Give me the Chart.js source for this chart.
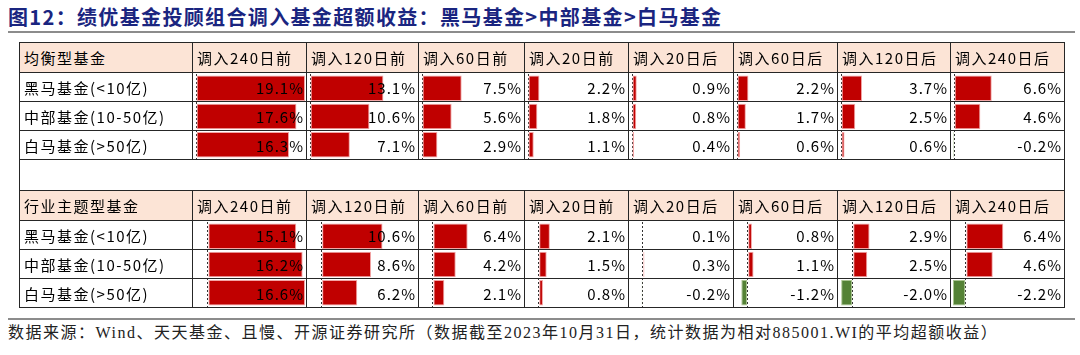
<!DOCTYPE html>
<html>
<head>
<meta charset="utf-8">
<script src="https://cdn.jsdelivr.net/npm/chart.js@4.4.0/dist/chart.umd.min.js"></script>
<style>
body{margin:0;background:#fff;width:1080px;height:355px;overflow:hidden;position:relative;font-family:"Noto Sans CJK SC","Noto Sans",sans-serif;}
#title{position:absolute;left:8px;top:3px;font-size:20px;line-height:28px;font-weight:bold;color:#1a2580;letter-spacing:1.35px;white-space:nowrap;}
.rule{position:absolute;left:8px;width:1067px;height:2px;background:#8c8c8c;}
#wrap{position:absolute;left:19px;top:42px;}
#wrap canvas{position:absolute;z-index:1;}
table{border-collapse:collapse;table-layout:fixed;position:relative;z-index:2;border:1.5px solid #222;}
td{border:1px solid #262626;padding:0 4px;font-size:15px;letter-spacing:1.5px;white-space:nowrap;overflow:hidden;color:#000;}
td.hd{background:#fce4d6;height:29px;}
td.lb{height:28px;}
td.val{text-align:right;padding:0 2px 0 0;letter-spacing:1px;}
td.gap{height:30px;}
#foot{position:absolute;left:8px;top:322px;font-family:"Liberation Serif","Noto Sans CJK SC",serif;font-size:16px;line-height:22px;color:#222;white-space:nowrap;letter-spacing:1.5px;}
</style>
</head>
<body>
<div id="title">图12：绩优基金投顾组合调入基金超额收益：黑马基金&gt;中部基金&gt;白马基金</div>
<div class="rule" style="top:31px"></div>
<div id="wrap"></div>
<div class="rule" style="top:318px"></div>
<div id="foot">数据来源：Wind、天天基金、且慢、开源证券研究所（数据截至2023年10月31日，统计数据为相对885001.WI的平均超额收益）</div>
<script>
var columns = ['调入240日前','调入120日前','调入60日前','调入20日前','调入20日后','调入60日后','调入120日后','调入240日后'];
var rowLabels = ['黑马基金(<10亿)','中部基金(10-50亿)','白马基金(>50亿)'];
var colWidths = [173,114,112,106,104,105,104,113,114];

// 均衡型基金
var balDark  = [19.1,13.1,7.5,2.2,0.9,2.2,3.7,6.6];
var balMid   = [17.6,10.6,5.6,1.8,0.8,1.7,2.5,4.6];
var balWhite = [16.3,7.1,2.9,1.1,0.4,0.6,0.6,-0.2];
// 行业主题型基金
var indDark  = [15.1,10.6,6.4,2.1,0.1,0.8,2.9,6.4];
var indMid   = [16.2,8.6,4.2,1.5,0.3,1.1,2.5,4.6];
var indWhite = [16.6,6.2,2.1,0.8,-0.2,-1.2,-2.0,-2.2];

var sections = [
  {name:'均衡型基金', rows:[balDark,balMid,balWhite]},
  {name:'行业主题型基金', rows:[indDark,indMid,indWhite]}
];

var RED = '#c00000', GREEN = '#548235';

var wrap = document.getElementById('wrap');
var table = document.createElement('table');
var cg = document.createElement('colgroup');
colWidths.forEach(function(w){ var c=document.createElement('col'); c.style.width=w+'px'; cg.appendChild(c); });
table.appendChild(cg);
table.style.width = colWidths.reduce(function(a,b){return a+b;},0)+'px';

function fmt(v){ return v.toFixed(1)+'%'; }

var cellRefs = [];
sections.forEach(function(sec, si){
  if(si>0){
    var tr=document.createElement('tr'); var td=document.createElement('td');
    td.colSpan=9; td.className='gap'; tr.appendChild(td); table.appendChild(tr);
  }
  var hr=document.createElement('tr');
  var h0=document.createElement('td'); h0.className='hd'; h0.textContent=sec.name; hr.appendChild(h0);
  columns.forEach(function(c){ var td=document.createElement('td'); td.className='hd'; td.textContent=c; hr.appendChild(td); });
  table.appendChild(hr);
  var refs=[];
  sec.rows.forEach(function(vals, ri){
    var tr=document.createElement('tr');
    var l=document.createElement('td'); l.className='lb'; l.textContent=rowLabels[ri]; tr.appendChild(l);
    var rr=[];
    vals.forEach(function(v){ var td=document.createElement('td'); td.className='val'; td.textContent=fmt(v); tr.appendChild(td); rr.push(td); });
    refs.push(rr);
    table.appendChild(tr);
  });
  cellRefs.push(refs);
});
wrap.appendChild(table);

var wr = wrap.getBoundingClientRect();
sections.forEach(function(sec, si){
  var all = [].concat.apply([], sec.rows);
  var lo = Math.min(0, Math.min.apply(null, all));
  var hi = Math.max.apply(null, all);
  var refs = cellRefs[si];
  columns.forEach(function(c, ci){
    var top = refs[0][ci].getBoundingClientRect();
    var bot = refs[2][ci].getBoundingClientRect();
    var x = top.left - wr.left + 2, y = top.top - wr.top + 1;
    var w = top.width - 4, h = bot.bottom - top.top - 2;
    var cv = document.createElement('canvas');
    cv.width = w; cv.height = h;
    cv.style.left = x+'px'; cv.style.top = y+'px';
    cv.style.width = w+'px'; cv.style.height = h+'px';
    wrap.appendChild(cv);
    var vals = sec.rows.map(function(r){ return r[ci]; });
    new Chart(cv, {
      type: 'bar',
      data: {
        labels: rowLabels,
        datasets: [{
          data: vals,
          backgroundColor: vals.map(function(v){ return v<0 ? GREEN : RED; }),
          borderColor: vals.map(function(v){ return v<0 ? '#a9c48f' : '#f2a5a5'; }),
          borderWidth: 1,
          borderSkipped: false,
          barPercentage: 0.9,
          categoryPercentage: 1
        }]
      },
      options: {
        indexAxis: 'y',
        responsive: false,
        animation: false,
        events: [],
        layout: {padding: 0},
        plugins: {legend: {display: false}, tooltip: {enabled: false}},
        scales: {
          x: {
            min: lo, max: hi,
            ticks: {display: false},
            afterBuildTicks: function(a){ a.ticks = [{value: 0}]; },
            grid: {color: '#333', lineWidth: 1, drawTicks: false},
            border: {display: false, dash: [2, 2]}
          },
          y: {display: false}
        }
      }
    });
  });
});
</script>
</body>
</html>
